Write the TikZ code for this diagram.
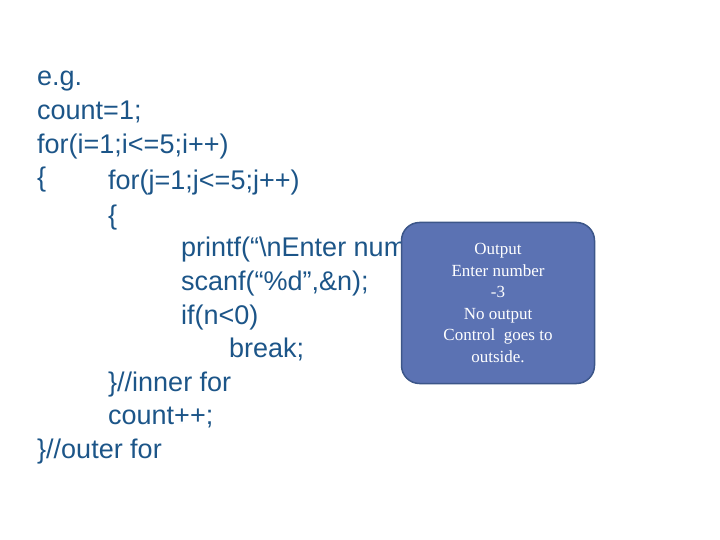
\documentclass[tikz,border=0pt]{standalone}
\usepackage{fontspec}
\setmainfont{Liberation Sans}
\newfontfamily\boxfont{Liberation Serif}
\definecolor{codeblue}{HTML}{1C5588}
\definecolor{boxfill}{HTML}{5B72B3}
\definecolor{boxline}{HTML}{3C5689}
\begin{document}
\begin{tikzpicture}[x=1pt,y=-1pt,
  code/.style={anchor=base west,inner sep=0pt,text=codeblue,font=\fontsize{27}{32}\selectfont},
  callout/.style={draw=boxline,line width=1.5pt,fill=boxfill,rounded corners=18pt,
    text=white,align=center,font=\boxfont\fontsize{17}{21.5}\selectfont,
    minimum width=193pt,minimum height=161pt,inner sep=0pt}]
\useasboundingbox (0,0) rectangle (720,540);
\node[code] (l0) at (37,86) {e.g.};
\node[code] (l1) at (37,119.6) {count=1;};
\node[code] (l2) at (37,153.2) {for(i=1;i<=5;i++)};
\node[code] (l3) at (37,186.8) {\{};
\node[code] (l4) at (108,190) {for(j=1;j<=5;j++)};
\node[code] (l5) at (108,225) {\{};
\node[code] (l6) at (181,256) {printf(“\textbackslash nEnter number”);};
\node[code] (l7) at (181,290) {scanf(“\%d”,\&n);};
\node[code] (l8) at (181,324) {if(n<0)};
\node[code] (l9) at (229,357) {break;};
\node[code] (l10) at (108,391) {\}//inner for};
\node[code] (l11) at (108,424) {count++;};
\node[code] (l12) at (37,458) {\}//outer for};
\node[callout] (box) at (498,303) {Output\\Enter number\\-3\\No output\\Control\ \ goes to\\outside.};
\end{tikzpicture}
\end{document}
